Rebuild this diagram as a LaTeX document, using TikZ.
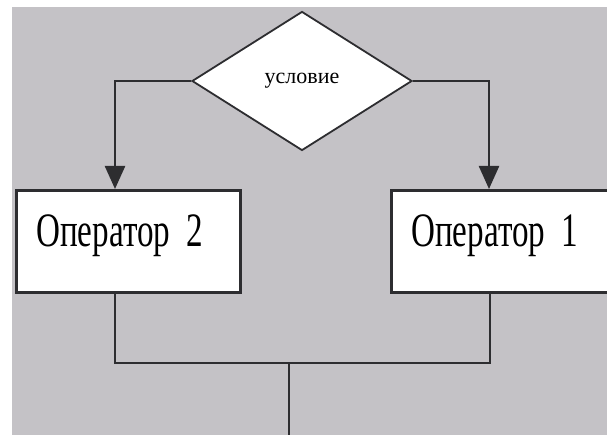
\documentclass[tikz,border=0pt]{standalone}
\usepackage{fontspec}
\setmainfont{Liberation Serif}
\newfontfamily\opfont[FakeStretch=0.69]{Liberation Serif}
\usepackage{tikz}
\usetikzlibrary{shapes.geometric, arrows.meta, positioning}
\definecolor{bggray}{RGB}{196,194,198}
\definecolor{edgegray}{RGB}{45,45,48}

\begin{document}
\begin{tikzpicture}[x=1pt, y=-1pt,
        cond/.style={diamond, draw=edgegray, line width=1.8pt, fill=white, inner sep=0pt,
            minimum width=220pt, minimum height=139pt, font=\fontsize{22}{24}\selectfont},
        opbox/.style={rectangle, draw=edgegray, line width=2.6pt, fill=white, anchor=north west,
            minimum height=102pt, inner xsep=20pt, text height=36pt, text depth=26pt,
            align=left, font=\opfont\fontsize{48}{50}\selectfont},
        flow/.style={line width=2.4pt, edgegray},
        arr/.style={-{Triangle[width=20pt, length=23pt]}}]
        \useasboundingbox (0, 0) rectangle (607, 435);
        \fill[white] (0, 0) rectangle (607, 435);
        \fill[bggray] (12, 7) rectangle (607, 435);

        \node[cond] (c) at (302, 81) {условие};
        \node[opbox, text width=184pt] (op2) at (15, 189) {Оператор 2};
        \node[opbox, text width=200pt] (op1) at (390, 189) {Оператор 1};

        \coordinate (j) at (289, 363);
        \coordinate (out) at (289, 440);

        \draw[flow, arr] (c.west) -| ([xshift=100pt]op2.north west);
        \draw[flow, arr] (c.east) -| ([xshift=99pt]op1.north west);
        \draw[flow] ([xshift=100pt]op2.south west) |- (j)
            -| ([xshift=100pt]op1.south west);
        \draw[flow] (j) to (out);
    \end{tikzpicture}
\end{document}
